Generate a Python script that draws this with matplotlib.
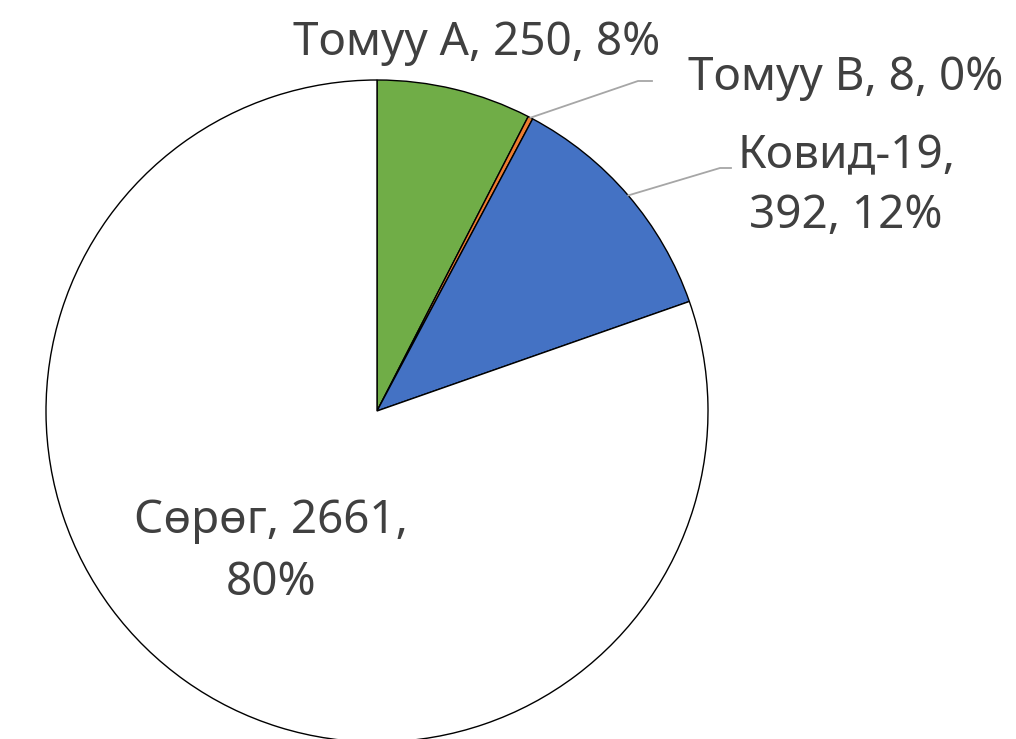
import matplotlib
matplotlib.use('Agg')
import matplotlib.pyplot as plt
import numpy as np

plt.rcParams['font.family'] = ['Noto Sans', 'DejaVu Sans']

# data
categories = ['Томуу А', 'Томуу В', 'Ковид-19', 'Сөрөг']
values = [250, 8, 392, 2661]
colors = ['#70AD47', '#ED7D31', '#4472C4', '#FFFFFF']
# where the label text wraps (after how many comma parts)
wrap_after = [None, None, 1, 2]

W, H = 1016, 739
fig = plt.figure(figsize=(W / 100, H / 100), dpi=100)
ax = fig.add_axes([0, 0, 1, 1])

cx, cy, r = 377, H - 411, 331
wedges, _ = ax.pie(values, colors=colors, startangle=90, counterclock=False,
                   center=(cx, cy), radius=r, frame=True,
                   wedgeprops=dict(edgecolor='black', linewidth=1.0))
ax.set_xlim(0, W)
ax.set_ylim(0, H)
ax.set_aspect('equal')
ax.axis('off')

total = sum(values)
labels = []
for name, v, wa in zip(categories, values, wrap_after):
    parts = [name, str(v), '{:.0f}%'.format(100.0 * v / total)]
    if wa is None:
        labels.append([', '.join(parts)])
    else:
        labels.append([', '.join(parts[:wa]) + ',', ', '.join(parts[wa:])])

# label placement (center x, baselines in image pixels)
label_pos = [(477, [55]), (846, [90]), (846, [168, 228]), (271, [533, 595])]
txt_kw = dict(color='#404040', fontsize=33, ha='center', va='baseline')
for lines, (x, ys) in zip(labels, label_pos):
    for line, y in zip(lines, ys):
        ax.text(x, H - y, line, **txt_kw)

# leader lines for the labels placed outside
leaders = {1: [(638, 81), (652, 81)], 2: [(720, 168), (731, 168)]}
for i, pts in leaders.items():
    w = wedges[i]
    ang = np.deg2rad((w.theta1 + w.theta2) / 2)
    x0, y0 = cx + r * np.cos(ang), cy + r * np.sin(ang)
    xs = [x0] + [p[0] for p in pts]
    ys = [y0] + [H - p[1] for p in pts]
    ax.plot(xs, ys, color='#A6A6A6', linewidth=1.3)

fig.savefig('out.png', dpi=100)
